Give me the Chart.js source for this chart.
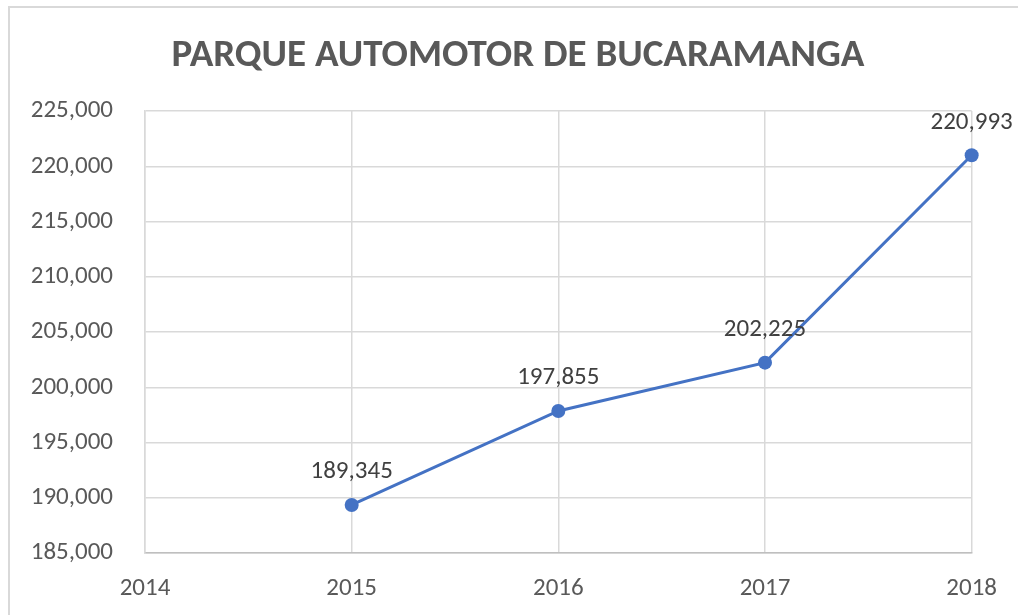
<!DOCTYPE html>
<html>
<head>
<meta charset="utf-8">
<script src="https://cdn.jsdelivr.net/npm/chart.js@4/dist/chart.umd.min.js"></script>
<style>
  html, body { margin: 0; padding: 0; background: #fff; overflow: hidden; }
  #wrap { position: absolute; left: 0; top: 0; width: 1018px; height: 615px; }
  #frame { position: absolute; left: 8px; top: 6px; width: 1100px; height: 700px;
           border-left: 2px solid #d9d9d9; border-top: 2px solid #d9d9d9; pointer-events: none; }
</style>
</head>
<body>
<div id="wrap"><canvas id="c" width="1018" height="615"></canvas></div>
<div id="frame"></div>
<script>
const titleText = 'PARQUE AUTOMOTOR DE BUCARAMANGA';
const years = [2015, 2016, 2017, 2018];
const vehicles = [189345, 197855, 202225, 220993];
const xMin = 2014, xMax = 2018;
const yMin = 185000, yMax = 225000, yStep = 5000;

const FONT = "Carlito, 'Open Sans', sans-serif";
const fmt = v => Number(v).toLocaleString('en-US');

const chartTitle = {
  id: 'chartTitle',
  afterDraw(chart) {
    const ctx = chart.ctx;
    ctx.save();
    ctx.font = "bold 39px " + FONT;
    ctx.fillStyle = '#595959';
    ctx.textAlign = 'center';
    ctx.textBaseline = 'alphabetic';
    ctx.fillText(titleText, 518, 66);
    ctx.restore();
  }
};

const valueLabels = {
  id: 'valueLabels',
  afterDatasetsDraw(chart) {
    const ctx = chart.ctx;
    const meta = chart.getDatasetMeta(0);
    ctx.save();
    ctx.font = "25px " + FONT;
    ctx.fillStyle = '#404040';
    ctx.textAlign = 'center';
    ctx.textBaseline = 'middle';
    meta.data.forEach((pt, i) => {
      ctx.fillText(fmt(vehicles[i]), pt.x, pt.y - 33);
    });
    ctx.restore();
  }
};

new Chart(document.getElementById('c'), {
  type: 'line',
  data: {
    datasets: [{
      data: years.map((y, i) => ({ x: y, y: vehicles[i] })),
      borderColor: '#4472C4',
      backgroundColor: '#4472C4',
      borderWidth: 3,
      pointRadius: 7,
      pointHoverRadius: 7,
      pointBackgroundColor: '#4472C4',
      pointBorderWidth: 0,
      tension: 0,
      clip: false
    }]
  },
  options: {
    responsive: false,
    animation: false,
    devicePixelRatio: 1,
    layout: { padding: { left: 0, right: 44, top: 111, bottom: 0 } },
    plugins: {
      legend: { display: false },
      tooltip: { enabled: false },
      title: { display: false }
    },
    scales: {
      x: {
        type: 'linear',
        min: xMin, max: xMax,
        ticks: {
          stepSize: 1,
          color: '#595959',
          font: { family: FONT, size: 25 },
          padding: 21,
          callback: v => String(v)
        },
        grid: { color: '#d9d9d9', lineWidth: 1.5, drawTicks: false },
        border: { color: '#bfbfbf', width: 1.5 },
        afterFit: s => { s.height = 62; }
      },
      y: {
        min: yMin, max: yMax,
        ticks: {
          stepSize: yStep,
          color: '#595959',
          font: { family: FONT, size: 25 },
          padding: 32,
          callback: v => fmt(v)
        },
        grid: { color: '#d9d9d9', lineWidth: 1.5, drawTicks: false },
        border: { color: '#d9d9d9', width: 1.5 },
        afterFit: s => { s.width = 145; }
      }
    }
  },
  plugins: [valueLabels, chartTitle]
});
</script>
</body>
</html>
